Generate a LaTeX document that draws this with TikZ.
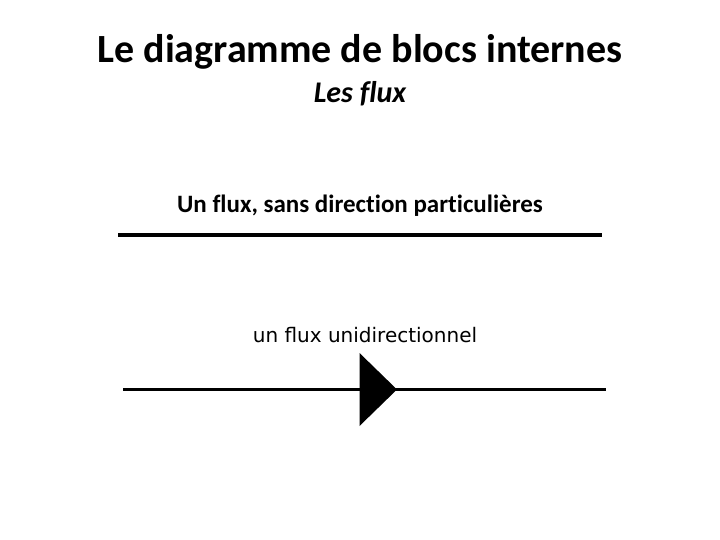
\documentclass[tikz,border=0pt]{standalone}
\usepackage{fontspec}
\setmainfont{Carlito}[Ligatures=NoCommon]
\newfontfamily\djv{DejaVu Sans}
\begin{document}
\begin{tikzpicture}[x=1bp,y=-1bp,
  ttl/.style={font=\fontsize{40bp}{48bp}\selectfont\bfseries, inner sep=0pt, anchor=base},
  sub/.style={font=\fontsize{30bp}{36bp}\selectfont\bfseries\itshape, inner sep=0pt, anchor=base},
  lbl/.style={font=\fontsize{25bp}{30bp}\selectfont\bfseries, inner sep=0pt, anchor=base},
  lbl2/.style={font=\djv\fontsize{20bp}{24bp}\selectfont, inner sep=0pt, anchor=base},
  flow/.style={line width=4bp},
  flow2/.style={line width=3bp}]
\useasboundingbox (0,0) rectangle (720,540);
\fill[white] (0,0) rectangle (720,540);
\node[ttl] (title) at (360,63) {Le diagramme de blocs internes};
\node[sub] (subtitle) at (360,103) {Les flux};
\node[lbl] (l1) at (360,213) {Un flux, sans direction particulières};
\coordinate (a1) at (118,235);
\coordinate (b1) at (602,235);
\draw[flow] (a1) -- (b1);
\node[lbl2] (l2) at (365,342) {un flux unidirectionnel};
\coordinate (a2) at (123,389.5);
\coordinate (b2) at (606,389.5);
\coordinate (t1) at (359.5,353);
\coordinate (t2) at (397,389.5);
\coordinate (t3) at (359.5,426);
\draw[flow2] (a2) -- (b2);
\fill (t1) -- (t2) -- (t3) -- cycle;
\end{tikzpicture}
\end{document}
